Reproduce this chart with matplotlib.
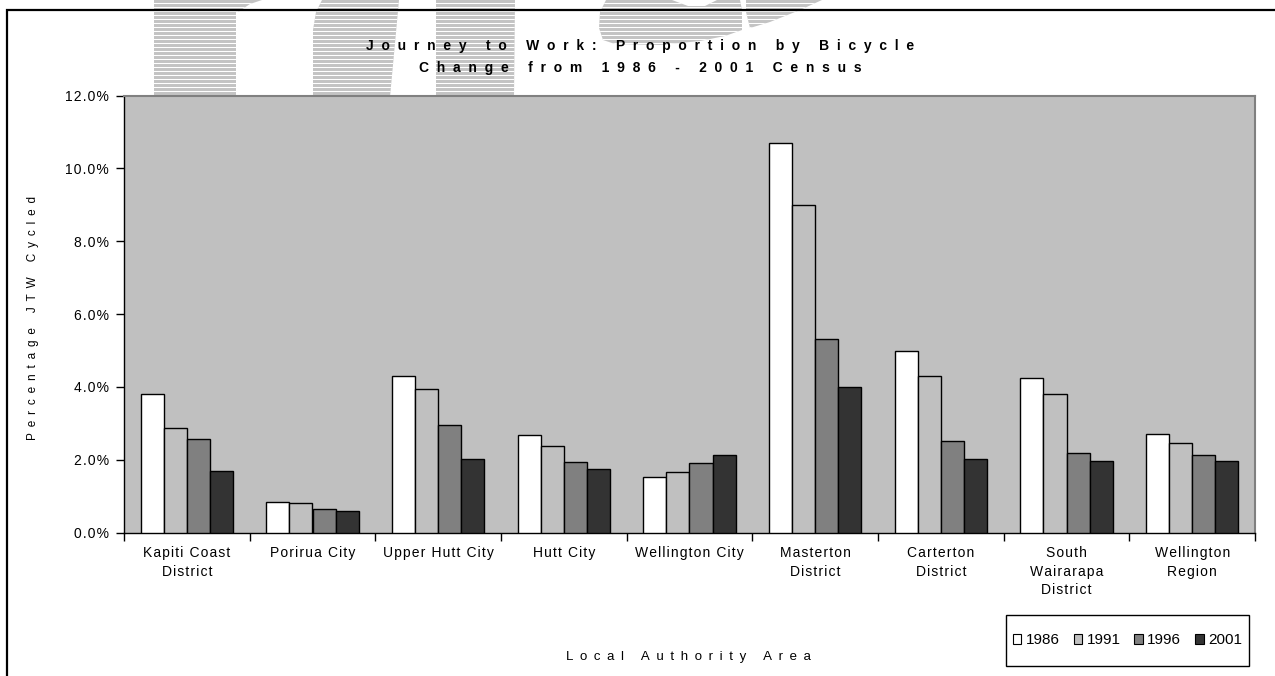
import numpy as np
import matplotlib
matplotlib.use("Agg")
import matplotlib.pyplot as plt
from matplotlib.patches import Polygon, Patch, Rectangle

plt.rcParams["font.family"] = ["Liberation Sans", "DejaVu Sans"]

# ---- data (percentage of journeys to work made by bicycle) ----
categories = ["Kapiti Coast\nDistrict", "Porirua City", "Upper Hutt City", "Hutt City",
              "Wellington City", "Masterton\nDistrict", "Carterton\nDistrict",
              "South\nWairarapa\nDistrict", "Wellington\nRegion"]
years = ["1986", "1991", "1996", "2001"]
pct_1986 = [3.81, 0.83, 4.30, 2.67, 1.53, 10.70, 4.98, 4.25, 2.71]
pct_1991 = [2.86, 0.80, 3.93, 2.37, 1.66, 9.00, 4.30, 3.81, 2.46]
pct_1996 = [2.58, 0.65, 2.95, 1.94, 1.91, 5.32, 2.52, 2.19, 2.12]
pct_2001 = [1.70, 0.59, 2.03, 1.73, 2.13, 4.00, 2.03, 1.95, 1.95]
series = [pct_1986, pct_1991, pct_1996, pct_2001]
bar_colors = ["#ffffff", "#c0c0c0", "#808080", "#333333"]
y_ticks = [0, 2, 4, 6, 8, 10, 12]

W, H = 1275, 676


def tracked(s, gap):
    """Letter-spaced version of a (possibly multi-line) string."""
    return "\n".join(gap.join(line) for line in s.split("\n"))


fig = plt.figure(figsize=(W / 100, H / 100), dpi=100)

# ---- striped lettering behind the heading ----
bg = fig.add_axes([0, 0, 1, 1], zorder=-5)
bg.set_xlim(0, W)
bg.set_ylim(H, 0)
bg.axis("off")
shapes = [
    [(154, 0), (236, 0), (236, 97), (154, 97)],
    [(236, 0), (262, 0), (250, 4), (238, 12), (236, 12)],
    [(322, 0), (399, 0), (390, 97), (313, 97), (313, 30), (316, 12)],
    [(436, 0), (515, 0), (514, 97), (436, 97)],
    [(606, 0), (672, 0), (688, 6), (705, 6), (717, 0), (740, 0), (742, 10),
     (742, 30), (725, 36), (700, 41), (660, 45), (615, 44), (603, 40), (599, 28), (600, 12)],
    [(746, 0), (822, 0), (800, 10), (770, 22), (750, 28), (746, 12)],
]
stripe_y = np.arange(2.5, 98, 4.0)
for pts in shapes:
    poly = Polygon(pts, closed=True, facecolor="#c3c3c3", edgecolor="none")
    bg.add_patch(poly)
    lc = bg.hlines(stripe_y, 0, W, colors="white", linewidth=0.75)
    lc.set_clip_path(poly)

# page frame
bg.plot([7, 7, W + 5], [H + 5, 9.5, 9.5], color="black", linewidth=1.6,
        solid_joinstyle="miter", clip_on=False)

# legend box
bg.add_patch(Rectangle((1006, 615), 243, 51, facecolor="white", edgecolor="black",
                       linewidth=1.0))

# ---- chart ----
ax = fig.add_axes([124 / W, (H - 532.5) / H, (1255 - 124) / W, (532.5 - 95.5) / H])
ax.set_facecolor("#c0c0c0")

x = np.arange(len(categories))
bw = 0.184
for i, (vals, col, yr) in enumerate(zip(series, bar_colors, years)):
    ax.bar(x + (i - 1.5) * bw, vals, width=bw, color=col, edgecolor="black",
           linewidth=1.0, label=yr, zorder=3)

ax.set_xlim(-0.5, len(categories) - 0.5)
ax.set_ylim(0, 12)
ax.set_yticks(y_ticks)
ax.set_yticklabels([tracked(f"{v:.1f}%", "\u200a") for v in y_ticks])

ax.set_xticks(np.arange(len(categories) + 1) - 0.5)
ax.set_xticklabels([])
ax.set_xticks(x, minor=True)
ax.set_xticklabels([tracked(c, "\u200a") for c in categories], minor=True,
                   linespacing=1.4)
ax.tick_params(axis="x", which="minor", length=0, pad=10, labelsize=10)
ax.tick_params(axis="x", which="major", length=6, width=1, direction="out", color="black")
ax.tick_params(axis="y", length=6, width=1, direction="out", pad=5, labelsize=10)

for side in ("top", "right"):
    ax.spines[side].set_color("#808080")
    ax.spines[side].set_linewidth(1.5)
for side in ("left", "bottom"):
    ax.spines[side].set_color("black")
    ax.spines[side].set_linewidth(1.0)

# ---- texts ----
fig.text(640 / W, 1 - 57 / H,
         tracked("Journey to Work: Proportion by Bicycle\nChange from 1986 - 2001 Census", "  "),
         ha="center", va="center", fontsize=10, fontweight="bold", linespacing=1.7)
fig.text(33 / W, 1 - 318 / H, tracked("Percentage JTW Cycled", "\u2002"),
         rotation=90, ha="center", va="center", fontsize=8.5)
fig.text(688 / W, 1 - 657 / H, tracked("Local Authority Area", "\u2002"),
         ha="center", va="center", fontsize=9.5)

handles = [Patch(facecolor=c, edgecolor="black", linewidth=0.8) for c in bar_colors]
leg = fig.legend(handles, years, loc="center", bbox_to_anchor=(1127.5 / W, 1 - 640.5 / H),
                 ncol=4, fontsize=11, frameon=False, borderpad=0,
                 handlelength=0.55, handleheight=0.55, handletextpad=0.3,
                 columnspacing=0.9, borderaxespad=0)

fig.savefig("out.png", dpi=100)
